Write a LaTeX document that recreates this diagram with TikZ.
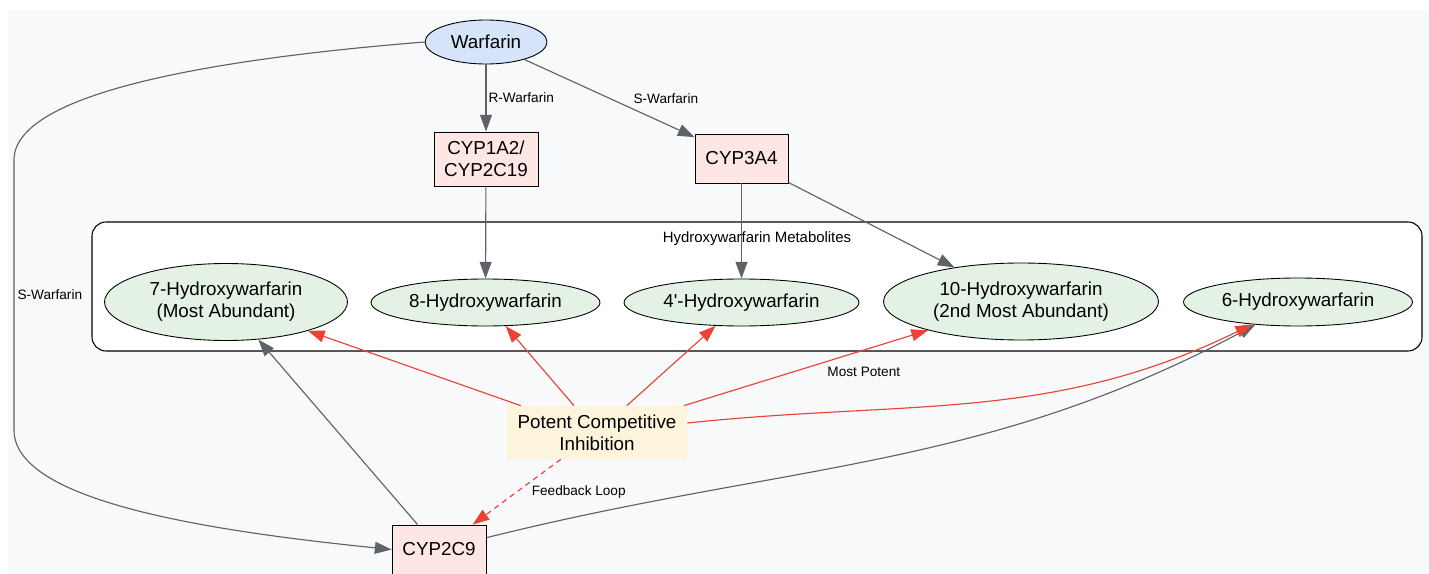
\documentclass[tikz,border=0pt]{standalone}
\usepackage{fontspec}
\setmainfont{Liberation Sans}
\usetikzlibrary{arrows.meta, shapes.geometric, positioning}

\definecolor{bgpage}{HTML}{F8F9FA}
\definecolor{drugblue}{HTML}{D5E4F9}
\definecolor{enzpink}{HTML}{FDE6E4}
\definecolor{metgreen}{HTML}{E4F2E6}
\definecolor{inhcream}{HTML}{FCF5DC}
\definecolor{flowgray}{HTML}{5F6368}
\definecolor{inhred}{HTML}{EA4335}

\begin{document}
\begin{tikzpicture}[x=0.02cm, y=-0.02cm,
    >={Triangle[length=9.5pt, width=6.8pt]},
    every node/.style={font=\fontsize{10.7}{12.6}\selectfont, align=center},
    drug/.style={ellipse, draw, line width=0.5pt, fill=drugblue, inner sep=0pt,
        minimum width=2.44cm, minimum height=0.88cm},
    enzyme/.style={rectangle, draw, line width=0.5pt, fill=enzpink, inner sep=0pt,
        minimum width=1.86cm, minimum height=0.98cm},
    metabolite/.style={ellipse, draw, line width=0.5pt, fill=metgreen, inner sep=0pt,
        minimum height=0.94cm},
    inhibit/.style={rectangle, fill=inhcream, inner sep=0pt,
        minimum width=3.6cm, minimum height=1.06cm},
    cluster/.style={draw, fill=white, line width=0.6pt, rounded corners=0.28cm},
    lbl/.style={font=\fontsize{7.75}{9}\selectfont, inner sep=0pt, text=black},
    flow/.style={->, color=flowgray, line width=0.65pt},
    inhibflow/.style={->, color=inhred, line width=0.65pt}]

    % page
    \useasboundingbox (0 , 0) rectangle (1429 , 574);
    \fill [white] (0 , 0) rectangle (1429 , 574);
    \fill [bgpage] (8 , 10) rectangle (1429 , 574);

    \node [drug] (warfarin) at (486 , 42) {Warfarin};
    \node [enzyme, minimum width=2.08cm, minimum height=1.08cm] (cyp1a2) at (486 , 159) {CYP1A2/\\CYP2C19};
    \node [enzyme] (cyp3a4) at (741.5 , 158.5) {CYP3A4};

    % metabolite cluster
    \draw [cluster] (92 , 222) rectangle (1422 , 351);
    \node [lbl, font=\fontsize{8.5}{10}\selectfont] (metlabel) at (757 , 239) {Hydroxywarfarin Metabolites};
    \node [metabolite, minimum width=4.86cm, minimum height=1.54cm] (oh7) at (226 , 302) {7-Hydroxywarfarin\\(Most Abundant)};
    \node [metabolite, minimum width=4.58cm] (oh8) at (485.5 , 302.5) {8-Hydroxywarfarin};
    \node [metabolite, minimum width=4.70cm] (oh4) at (741.5 , 302.5) {4\textquotesingle-Hydroxywarfarin};
    \node [metabolite, minimum width=5.50cm, minimum height=1.54cm] (oh10) at (1021 , 301.5) {10-Hydroxywarfarin\\(2nd Most Abundant)};
    \node [metabolite, minimum width=4.58cm, minimum height=0.96cm] (oh6) at (1298 , 302) {6-Hydroxywarfarin};

    \node [inhibit] (inhib) at (597 , 432.5) {Potent Competitive\\Inhibition};
    \node [enzyme, minimum width=1.88cm] (cyp2c9) at (439 , 549.5) {CYP2C9};

 \path [flow]
      (warfarin) edge node [lbl, right=0.04cm] {R-Warfarin} (cyp1a2)
      (warfarin) edge node [lbl, right=0.47cm] {S-Warfarin} (cyp3a4)
      (cyp1a2) edge (oh8)
      (cyp3a4) edge (oh4)
      (cyp3a4) edge (oh10)
      (cyp2c9) edge (oh7)
      (cyp2c9) edge [out=14, in=208] (oh6);
 \draw [flow] (warfarin.west) .. controls (200 , 60) and (14 , 95) .. (14 , 160)
      -- node [lbl, right=0.06cm] {S-Warfarin} (14 , 430)
      .. controls (14 , 500) and (200 , 530) .. (cyp2c9.west);
 \path [inhibflow]
      (inhib) edge (oh7)
      (inhib) edge (oh8)
      (inhib) edge (oh4)
      (inhib) edge node [lbl, right=0.42cm, yshift=-0.08cm] {Most Potent} (oh10)
      (inhib) edge [out=6, in=206] (oh6)
      (inhib) edge [dash pattern=on 3pt off 2.5pt] node [lbl, right=0.29cm] {Feedback Loop} (cyp2c9);
\end{tikzpicture}
\end{document}
